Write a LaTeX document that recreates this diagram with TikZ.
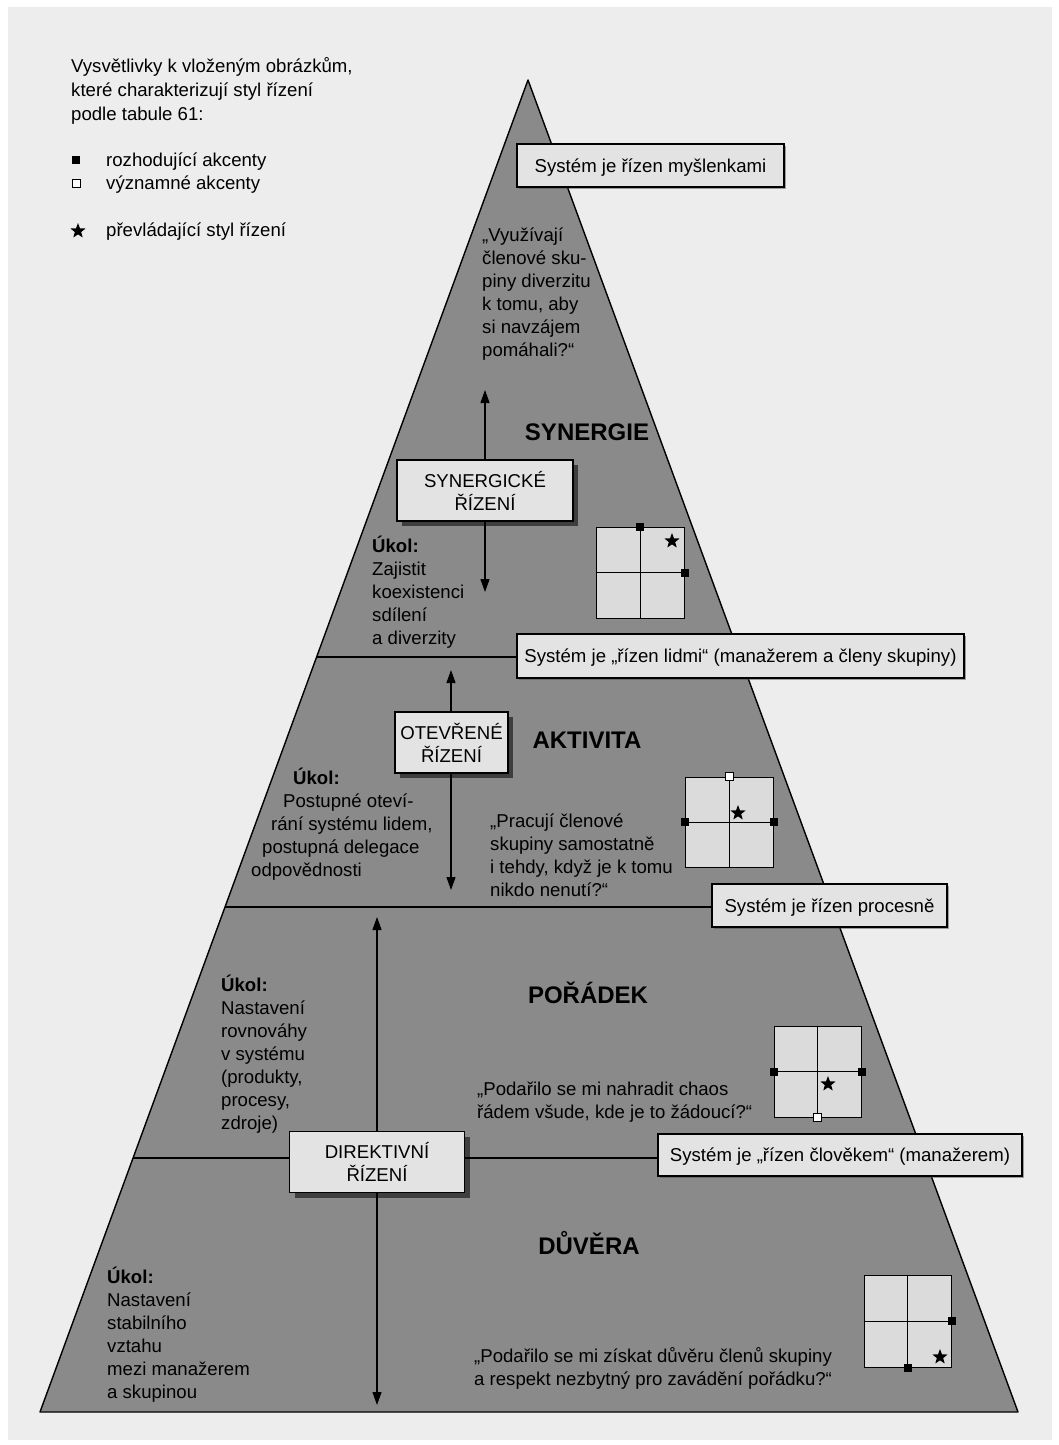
\documentclass[tikz,border=0pt]{standalone}
\usepackage{fontspec}
\setmainfont{Liberation Sans}
\usetikzlibrary{shapes.geometric,arrows.meta,shadows}
\definecolor{paper}{gray}{0.93}
\definecolor{pyr}{gray}{0.54}
\definecolor{boxfill}{gray}{0.89}
\definecolor{gridfill}{gray}{0.86}
\begin{document}
\begin{tikzpicture}[x=1pt,y=-1pt,
  sysbox/.style={draw=black, line width=1.2pt, fill=boxfill, inner sep=0pt,
    font=\fontsize{18.6}{21}\selectfont, text height=13.3pt, text depth=0pt,
    drop shadow={shadow xshift=2pt, shadow yshift=-2pt, fill=black!70}},
  rolebox/.style={draw=black, line width=1.2pt, fill=boxfill, inner sep=0pt,
    align=center, font=\fontsize{18.6}{23}\selectfont,
    drop shadow={shadow xshift=5pt, shadow yshift=-5pt, fill=black, opacity=0.55}},
  title/.style={font=\fontsize{24}{26}\selectfont\bfseries, inner sep=0pt, anchor=base},
  para/.style={font=\fontsize{18.6}{23}\selectfont, inner sep=0pt, align=left, anchor=north west},
  legtxt/.style={font=\fontsize{18.6}{24}\selectfont, inner sep=0pt, align=left, anchor=base west},
  gridbox/.style={draw=black, line width=1pt, fill=gridfill, inner sep=0pt},
  blackmk/.style={rectangle, fill=black, minimum size=8pt, inner sep=0pt},
  whitemk/.style={rectangle, draw=black, line width=0.8pt, fill=white, minimum size=8pt, inner sep=0pt},
  starmk/.style={star, star points=5, star point ratio=2.4, fill=black, minimum size=16pt, inner sep=0pt},
  divline/.style={line width=1.3pt},
  dblarrow/.style={line width=1.2pt, {Triangle[width=9pt,length=13pt]}-{Triangle[width=9pt,length=13pt]}}
]
% page
\useasboundingbox (0,0) rectangle (1059,1445);
\fill[white] (0,0) rectangle (1059,1445);
\fill[paper] (8,7) rectangle (1052,1440);

% pyramid
\coordinate (apex) at (528,80);
\coordinate (bl) at (40,1412);
\coordinate (br) at (1018,1412);
\draw[fill=pyr, line width=1.4pt, line join=round] (apex) -- (br) -- (bl) -- cycle;

% legend
\node[legtxt] (leg) at (71,120) {Vysvětlivky k vloženým obrázkům,\\které charakterizují styl řízení\\podle tabule 61:};
\node[blackmk] (legb) at (76,160) {};
\node[legtxt] (legbt) at (106,166) {rozhodující akcenty};
\node[whitemk] (legw) at (76,183) {};
\node[legtxt] (legwt) at (106,189) {významné akcenty};
\node[starmk] (legs) at (78,231) {};
\node[legtxt] (legst) at (106,236) {převládající styl řízení};

% divider coordinates
\coordinate (d1l) at (316.6,657);
\coordinate (d2l) at (225,907);
\coordinate (d3l) at (133,1158);

% arrows
\coordinate (a1t) at (485,390);
\coordinate (a1b) at (485,592);
\coordinate (a2t) at (451,670);
\coordinate (a2b) at (451,890);
\coordinate (a3t) at (377,917);
\coordinate (a3b) at (377,1405);
\draw[dblarrow] (a1t) -- (a1b);
\draw[dblarrow] (a2t) -- (a2b);
\draw[dblarrow] (a3t) -- (a3b);

% system boxes
\node[sysbox, minimum width=267pt, minimum height=43pt] (s1) at (650.5,165.5) {Systém je řízen myšlenkami};
\node[sysbox, minimum width=447pt, minimum height=44pt] (s2) at (740.5,656) {Systém je „řízen lidmi“ (manažerem a členy skupiny)};
\node[sysbox, minimum width=235pt, minimum height=43pt] (s3) at (829.5,905.5) {Systém je řízen procesně};
\node[sysbox, minimum width=364pt, minimum height=42pt] (s4) at (840,1155) {Systém je „řízen člověkem“ (manažerem)};

\draw[divline] (d1l) -- (s2.west |- d1l);
\draw[divline] (d2l) -- (s3.west |- d2l);
\draw[divline] (d3l) -- (s4.west |- d3l);

% role boxes
\node[rolebox, minimum width=176pt, minimum height=61pt] (r1) at (485,490.5) {SYNERGICKÉ\\ŘÍZENÍ};
\node[rolebox, minimum width=113pt, minimum height=61pt] (r2) at (451.5,742.5) {OTEVŘENÉ\\ŘÍZENÍ};
\node[rolebox, minimum width=175pt, minimum height=61pt] (r3) at (377,1162) {DIREKTIVNÍ\\ŘÍZENÍ};

% titles
\node[title] (t1) at (587,440.5) {SYNERGIE};
\node[title] (t2) at (587,748.5) {AKTIVITA};
\node[title] (t3) at (588,1003.5) {POŘÁDEK};
\node[title] (t4) at (589,1254.5) {DŮVĚRA};

% paragraphs
\node[para] (q1) at (482,225) {\strut„Využívají\\členové sku-\\piny diverzitu\\k tomu, aby\\si navzájem\\pomáhali?“};
\node[para] (u1) at (372,536) {\strut\textbf{Úkol:}\\Zajistit\\koexistenci\\sdílení\\a diverzity};
\node[para] (u2) at (251,768) {\strut\hspace*{42pt}\textbf{Úkol:}\\\hspace*{32pt}Postupné oteví-\\\hspace*{20pt}rání systému lidem,\\\hspace*{11pt}postupná delegace\\odpovědnosti};
\node[para] (q2) at (490,811) {\strut„Pracují členové\\skupiny samostatně\\i tehdy, když je k tomu\\nikdo nenutí?“};
\node[para] (u3) at (221,975) {\strut\textbf{Úkol:}\\Nastavení\\rovnováhy\\v systému\\(produkty,\\procesy,\\zdroje)};
\node[para] (q3) at (477,1079) {\strut„Podařilo se mi nahradit chaos\\řádem všude, kde je to žádoucí?“};
\node[para] (u4) at (107,1267) {\strut\textbf{Úkol:}\\Nastavení\\stabilního\\vztahu\\mezi manažerem\\a skupinou};
\node[para] (q4) at (474,1346) {\strut„Podařilo se mi získat důvěru členů skupiny\\a respekt nezbytný pro zavádění pořádku?“};

% grids
\node[gridbox, minimum width=88pt, minimum height=91pt] (g1) at (640,572.5) {};
\draw[line width=1pt] (g1.north) -- (g1.south) (g1.west) -- (g1.east);
\node[blackmk] (g1n) at (g1.north) {};
\node[blackmk] (g1e) at (g1.east) {};
\node[starmk] (g1s) at (672,541) {};

\node[gridbox, minimum width=88pt, minimum height=90pt] (g2) at (729,822) {};
\draw[line width=1pt] (g2.north) -- (g2.south) (g2.west) -- (g2.east);
\node[whitemk] (g2n) at (g2.north) {};
\node[blackmk] (g2w) at (g2.west) {};
\node[blackmk] (g2e) at (g2.east) {};
\node[starmk] (g2s) at (738,813) {};

\node[gridbox, minimum width=87pt, minimum height=91pt] (g3) at (817.5,1071.5) {};
\draw[line width=1pt] (g3.north) -- (g3.south) (g3.west) -- (g3.east);
\node[blackmk] (g3w) at (g3.west) {};
\node[blackmk] (g3e) at (g3.east) {};
\node[whitemk] (g3so) at (g3.south) {};
\node[starmk] (g3s) at (828,1084) {};

\node[gridbox, minimum width=87pt, minimum height=92pt] (g4) at (907.5,1321) {};
\draw[line width=1pt] (g4.north) -- (g4.south) (g4.west) -- (g4.east);
\node[blackmk] (g4e) at (g4.east) {};
\node[blackmk] (g4so) at (g4.south) {};
\node[starmk] (g4s) at (940,1357) {};
\end{tikzpicture}
\end{document}
